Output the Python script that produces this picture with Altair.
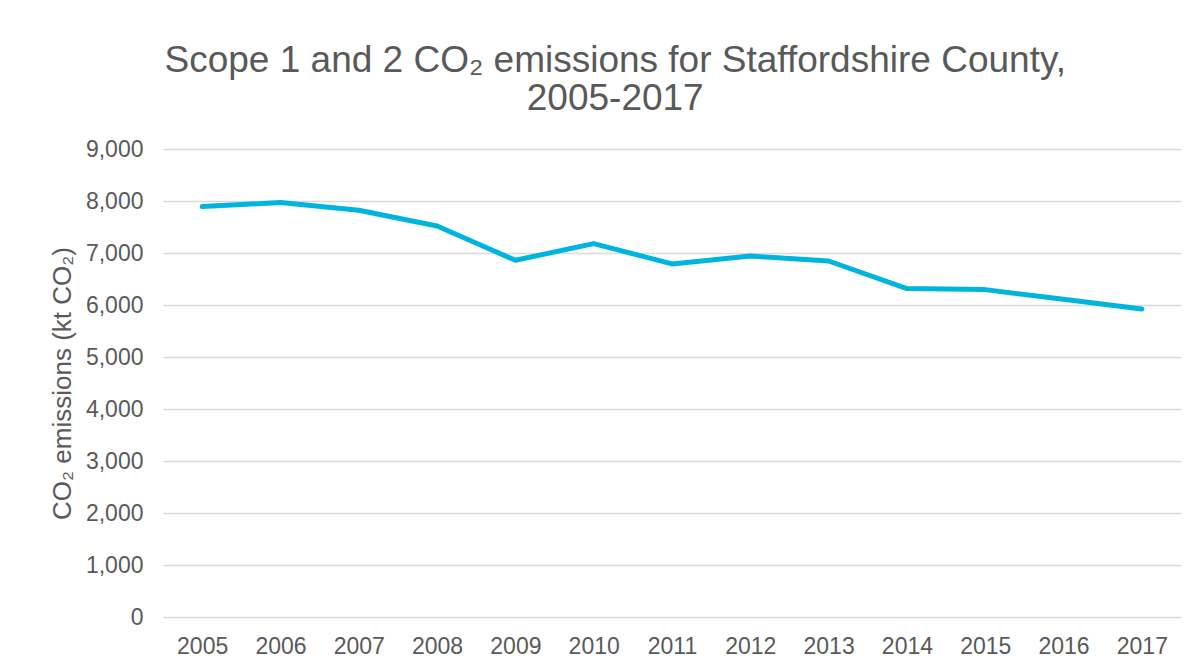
import altair as alt
import pandas as pd

years = ["2005", "2006", "2007", "2008", "2009", "2010", "2011",
         "2012", "2013", "2014", "2015", "2016", "2017"]
emissions = [7892, 7969, 7821, 7519, 6860, 7181, 6790,
             6942, 6846, 6315, 6296, 6110, 5923]

df = pd.DataFrame({"year": years, "value": emissions})

GREY = "#595959"
FONT = "Liberation Sans"

chart = alt.Chart(df).mark_line(
    color="#00B4E0", strokeWidth=5, strokeCap="round", strokeJoin="round"
).encode(
    x=alt.X("year:O", sort=years,
            scale=alt.Scale(type="point", padding=0.5),
            axis=alt.Axis(title=None, labelAngle=0, ticks=False, domain=False,
                          grid=False, labelFontSize=23, labelColor=GREY,
                          labelFont=FONT, labelPadding=18)),
    y=alt.Y("value:Q",
            scale=alt.Scale(domain=[0, 9000], nice=False),
            axis=alt.Axis(title="CO₂ emissions (kt CO₂)", values=list(range(0, 9001, 1000)),
                          format=",d", ticks=False, domain=False,
                          grid=True, gridColor="#d9d9d9", gridWidth=1.5,
                          labelFontSize=23, labelColor=GREY, labelFont=FONT,
                          labelPadding=20, titleFontSize=26, titleColor=GREY,
                          titleFont=FONT, titleFontWeight="normal", titlePadding=10)),
).properties(
    width=1018,
    height=468,
    background="white",
    title=alt.TitleParams(
        text=["Scope 1 and 2 CO₂ emissions for Staffordshire County,", "2005-2017"],
        fontSize=37, font=FONT, fontWeight="normal", color=GREY,
        lineHeight=38, offset=20, anchor="middle", frame="bounds",
    ),
    padding={"left": 41, "top": 34, "right": 5, "bottom": 0},
).configure_view(stroke=None, strokeWidth=0)

chart.save("out.html", embed_options={"renderer": "svg", "actions": False})
